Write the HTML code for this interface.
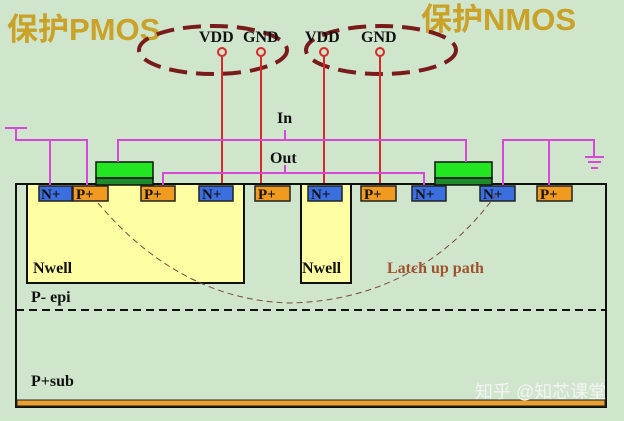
<!DOCTYPE html>
<html><head><meta charset="utf-8"><style>
html,body{margin:0;padding:0;background:#cfe5cc;}
svg{display:block}
text{font-family:"Liberation Serif","Noto Serif CJK SC",serif;font-weight:bold;}
</style></head><body>
<svg width="624" height="421" viewBox="0 0 624 421" xmlns="http://www.w3.org/2000/svg">
<rect width="624" height="421" fill="#cfe5cc"/>
<text x="7" y="40" font-size="31" fill="#c9a227" style="font-family:'Liberation Sans','Noto Sans CJK SC',sans-serif">保护PMOS</text>
<text x="421" y="30" font-size="31" fill="#c9a227" style="font-family:'Liberation Sans','Noto Sans CJK SC',sans-serif">保护NMOS</text>
<ellipse cx="213" cy="50" rx="74" ry="24" fill="none" stroke="#7a1b1b" stroke-width="4" stroke-dasharray="18,9"/>
<ellipse cx="381" cy="50" rx="75" ry="24" fill="none" stroke="#7a1b1b" stroke-width="4" stroke-dasharray="18,9"/>
<text x="199" y="42" font-size="16" fill="#111">VDD</text>
<text x="243" y="42" font-size="16" fill="#111">GND</text>
<text x="305" y="42" font-size="16" fill="#111">VDD</text>
<text x="361" y="42" font-size="16" fill="#111">GND</text>
<g stroke="#d92828" stroke-width="2" fill="#cfe5cc">
<line x1="222" y1="56" x2="222" y2="186"/><line x1="261" y1="56" x2="261" y2="186"/>
<line x1="324" y1="56" x2="324" y2="186"/><line x1="380" y1="56" x2="380" y2="186"/>
<circle cx="222" cy="52" r="4"/><circle cx="261" cy="52" r="4"/><circle cx="324" cy="52" r="4"/><circle cx="380" cy="52" r="4"/>
</g>
<rect x="16" y="184" width="590" height="223" fill="#cfe5cc" stroke="#111" stroke-width="2"/>
<rect x="27" y="184" width="217" height="99" fill="#fefea2" stroke="#111" stroke-width="2"/>
<rect x="301" y="184" width="50" height="99" fill="#fefea2" stroke="#111" stroke-width="2"/>
<line x1="16" y1="310" x2="606" y2="310" stroke="#111" stroke-width="2" stroke-dasharray="8,5"/>
<rect x="17" y="400" width="588" height="6" fill="#e8a030" stroke="#222" stroke-width="1"/>
<rect x="96" y="162" width="57" height="16" fill="#22e622" stroke="#111" stroke-width="1.5"/>
<rect x="96" y="178" width="57" height="7" fill="#1e8a2a" stroke="#111" stroke-width="1.5"/>
<rect x="435" y="162" width="57" height="16" fill="#22e622" stroke="#111" stroke-width="1.5"/>
<rect x="435" y="178" width="57" height="7" fill="#1e8a2a" stroke="#111" stroke-width="1.5"/>
<g stroke="#d848d8" stroke-width="2" fill="none">
<polyline points="5,128 27,128"/>
<polyline points="16,128 16,140 87,140 87,186"/>
<line x1="50" y1="140" x2="50" y2="186"/>
<polyline points="118,162 118,140 466,140 466,162"/>
<line x1="285" y1="130" x2="285" y2="140"/>
<polyline points="163,186 163,173 424,173 424,186"/>
<line x1="285" y1="165" x2="285" y2="173"/>
<polyline points="503,186 503,140 594,140 594,157"/>
<line x1="549" y1="140" x2="549" y2="186"/>
<line x1="585" y1="157" x2="604" y2="157"/>
<line x1="588" y1="162" x2="601" y2="162"/>
<line x1="591" y1="168" x2="598" y2="168"/>
</g>
<text x="277" y="123" font-size="16" fill="#111">In</text>
<text x="270" y="163" font-size="16" fill="#111">Out</text>
<g stroke="#222" stroke-width="1.5">
<rect x="39" y="186" width="33" height="15" fill="#3b6fe0"/>
<rect x="73" y="186" width="35" height="15" fill="#f09a20"/>
<rect x="141" y="186" width="34" height="15" fill="#f09a20"/>
<rect x="199" y="186" width="34" height="15" fill="#3b6fe0"/>
<rect x="255" y="186" width="35" height="15" fill="#f09a20"/>
<rect x="308" y="186" width="34" height="15" fill="#3b6fe0"/>
<rect x="361" y="186" width="35" height="15" fill="#f09a20"/>
<rect x="412" y="186" width="34" height="15" fill="#3b6fe0"/>
<rect x="480" y="186" width="35" height="15" fill="#3b6fe0"/>
<rect x="537" y="186" width="35" height="15" fill="#f09a20"/>
</g>
<g font-size="15" fill="#111" font-weight="normal">
<text x="41" y="199">N+</text><text x="76" y="199">P+</text><text x="144" y="199">P+</text>
<text x="202" y="199">N+</text><text x="258" y="199">P+</text><text x="311" y="199">N+</text>
<text x="364" y="199">P+</text><text x="415" y="199">N+</text><text x="483" y="199">N+</text>
<text x="540" y="199">P+</text>
</g>
<path d="M98,203 Q180,300 290,303 Q420,300 498,192" fill="none" stroke="#7a4a3a" stroke-width="1" stroke-dasharray="6,4"/>
<text x="33" y="273" font-size="16" fill="#111">Nwell</text>
<text x="302" y="273" font-size="16" fill="#111">Nwell</text>
<text x="387" y="273" font-size="16" fill="#a0522d">Latch up path</text>
<text x="31" y="302" font-size="16" fill="#111">P- epi</text>
<text x="31" y="386" font-size="16" fill="#111">P+sub</text>
<text x="475" y="398" font-size="18" fill="#f4f4f4" style="font-family:'Liberation Sans','Noto Sans CJK SC',sans-serif;font-weight:normal">知乎 @知芯课堂</text>
</svg>
</body></html>
